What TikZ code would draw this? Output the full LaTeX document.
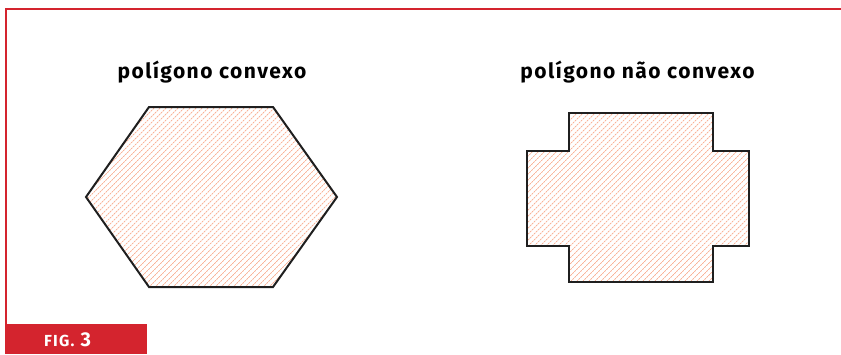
\documentclass[tikz,border=0pt]{standalone}
\usepackage{fontspec}
\setmainfont{Fira Sans}
\usetikzlibrary{
	positioning
}
\definecolor{figred}{RGB}{212,36,46}
\definecolor{hatch}{RGB}{248,170,140}

\begin{document}
\begin{tikzpicture}[x=1pt,y=-1pt,
		outline/.style={line width=2pt,draw=black!88,line join=miter},
		hatchline/.style={hatch,line width=0.7pt,dash pattern=on 2pt off 0.8pt},
		title/.style={font=\fontsize{21}{24}\selectfont\bfseries\addfontfeature{LetterSpace=7},anchor=base}]
		\useasboundingbox (0,0) rectangle (841,354);

		% frame and label
		\draw[figred,line width=2.4pt] (841,9) -- (6,9) -- (6,324);
		\fill[figred] (5,324) rectangle (147,354);
		\node[anchor=base,text=white,font=\bfseries,inner sep=0pt] (fig) at (67.5,346)
			{{\fontsize{16}{17}\selectfont\addfontfeature{LetterSpace=8}FIG.}\hspace{6pt}{\fontsize{20}{21}\selectfont 3}};

		% titles
		\draw
			node[title] (convex)    at (212,78)   {polígono convexo}
			node[title] (nonconvex) at (637.5,78) {polígono não convexo}
		;

		% convex polygon
		\coordinate (h1) at (149,107);
		\coordinate (h2) at (273,107);
		\coordinate (h3) at (337,197);
		\coordinate (h4) at (273,287);
		\coordinate (h5) at (149,287);
		\coordinate (h6) at (86,197);
		\begin{scope}
			\clip (h1) -- (h2) -- (h3) -- (h4) -- (h5) -- (h6) -- cycle;
			\foreach \k in {190,196,...,630}
				\draw[hatchline] (\k-100,100) -- (\k-300,300);
		\end{scope}
		\draw[outline] (h1) -- (h2) -- (h3) -- (h4) -- (h5) -- (h6) -- cycle;

		% non-convex polygon
		\begin{scope}
			\clip (569,113) -- (713,113) -- (713,151) -- (749,151) -- (749,246) -- (713,246)
				-- (713,282) -- (569,282) -- (569,246) -- (527,246) -- (527,151) -- (569,151) -- cycle;
			\foreach \k in {636,642,...,1036}
				\draw[hatchline] (\k-100,100) -- (\k-300,300);
		\end{scope}
		\draw[outline] (569,113) -- (713,113) -- (713,151) -- (749,151) -- (749,246) -- (713,246)
			-- (713,282) -- (569,282) -- (569,246) -- (527,246) -- (527,151) -- (569,151) -- cycle;
	\end{tikzpicture}
\end{document}
